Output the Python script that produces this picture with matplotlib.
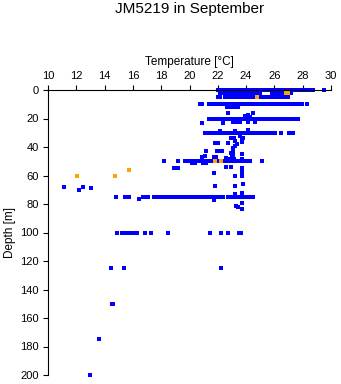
import matplotlib.pyplot as plt

# temperatures (degC) at the standard sampling depths
t_0m = [22.0, 22.15, 22.3, 22.45, 22.6, 22.75, 22.9, 23.05, 23.2, 23.35, 23.5,
        23.65, 23.8, 23.95, 24.1, 24.25, 24.4, 24.55, 24.7, 24.85, 25.0, 25.15,
        25.3, 25.45, 25.6, 25.75, 25.9, 26.05, 26.2, 26.35, 26.5, 26.65, 26.8,
        26.95, 27.1, 27.25, 27.4, 27.55, 27.7, 27.85, 28.0, 28.15, 28.3, 28.45,
        28.6, 28.75, 29.5]
t_2m = [22.15, 22.35, 22.6, 22.8, 22.95, 23.2, 23.35, 23.5, 23.65, 23.8, 23.95,
        24.1, 24.25, 24.4, 24.55, 24.7, 24.85, 25.0, 25.8, 25.95, 26.05, 26.2,
        26.4, 26.55, 26.7, 27.05, 27.15]
t_5m = [22.0, 22.15, 22.5, 22.65, 22.8, 22.95, 23.1, 23.25, 23.4, 23.55, 23.7,
        23.85, 24.0, 24.15, 24.3, 24.45, 24.6, 24.9, 25.05, 25.2, 25.35, 25.5,
        25.65, 25.8, 25.95, 26.1, 26.25, 26.4, 26.65, 26.8, 26.95]
t_10m = [20.75, 20.9, 21.35, 21.5, 21.65, 21.8, 21.95, 22.1, 22.25, 22.4, 22.55,
         22.7, 22.85, 23.0, 23.15, 23.3, 23.45, 23.6, 23.75, 23.9, 24.05, 24.2,
         24.35, 24.5, 24.65, 24.8, 24.95, 25.1, 25.25, 25.4, 25.55, 25.7, 25.85,
         26.0, 26.15, 26.3, 26.45, 26.6, 26.75, 26.9, 27.05, 27.2, 27.35, 27.5,
         27.65, 27.8, 27.95, 28.3]
t_12m = [22.65, 22.85, 23.1, 23.3, 23.45]
t_20m = [21.4, 21.55, 21.7, 21.85, 22.0, 22.15, 22.3, 22.45, 22.6, 22.75, 22.9,
         23.05, 23.2, 23.35, 23.5, 23.65, 23.8, 23.95, 24.1, 24.25, 24.4, 24.55,
         24.7, 24.85, 25.0, 25.15, 25.3, 25.45, 25.7, 25.85, 26.0, 26.15, 26.3,
         26.5, 26.65, 26.8, 26.95, 27.1, 27.25, 27.4, 27.55, 27.7]
t_30m = [21.1, 21.25, 21.4, 21.55, 21.7, 21.85, 22.0, 22.15, 22.3, 22.45, 22.6,
         22.75, 22.9, 23.05, 23.2, 23.35, 23.5, 23.65, 23.8, 23.95, 24.1, 24.25,
         24.4, 24.55, 24.7, 24.85, 25.0, 25.15, 25.3, 25.45, 25.6, 25.75, 25.9,
         26.05, 26.45, 27.0, 27.15, 27.3]
t_50m = [18.2, 19.2, 19.7, 19.85, 20.0, 20.15, 20.3, 20.45, 20.6, 20.75, 20.9,
         21.05, 21.2, 21.35, 21.5, 21.65, 21.95, 22.1, 22.4, 22.55, 22.7, 22.85,
         23.0, 23.15, 23.3, 23.45, 23.6, 23.75, 23.9, 24.05, 24.2, 24.3, 25.15]
t_75m = [14.8, 15.45, 15.6, 15.7, 16.7, 16.85, 17.0, 17.1, 17.5, 17.65, 17.8,
         17.95, 18.1, 18.25, 18.5, 18.65, 18.8, 18.95, 19.1, 19.25, 19.4, 19.55,
         19.7, 19.85, 20.0, 20.15, 20.3, 20.45, 20.6, 20.8, 20.95, 21.1, 21.25,
         21.4, 21.55, 21.7, 21.85, 22.0, 22.15, 22.3, 22.4, 22.7, 22.85, 23.0,
         23.15, 23.3, 23.45, 23.6, 23.75, 23.9, 24.05, 24.2, 24.35, 24.5]
t_100m = [14.85, 15.25, 15.4, 15.55, 15.7, 15.85, 16.0, 16.15, 16.3, 16.85,
          17.25, 18.5, 21.45, 22.25, 22.75, 23.5, 23.65]
t_125m = [14.45, 15.35, 22.2]
t_150m = [14.5, 14.6]
t_175m = [13.6]
t_200m = [13.0]

# loose points between the standard depths
other_temp = [22.7, 24.5, 24.1, 23.9, 24.3, 24.0,
              20.85, 22.35, 23.1, 23.35, 23.6, 24.15, 24.6,
              22.15, 23.2, 24.15, 22.9, 23.15, 23.6, 23.75, 23.7,
              21.8, 22.0, 22.75, 23.2, 23.35, 23.25, 23.7,
              21.2, 21.95, 22.1, 22.3, 22.9, 23.1, 23.1, 23.1, 23.7,
              20.85, 21.1, 21.7, 21.9, 22.6, 22.75, 23.0, 23.15, 23.7,
              20.15, 20.4, 20.95, 21.15,
              22.6, 22.9, 23.7, 23.7, 21.7, 23.2, 23.7, 18.9, 19.2,
              11.15, 12.2, 12.5, 13.05,
              23.8, 21.8, 23.2, 23.7, 23.25,
              16.4, 21.7, 23.7, 23.3, 23.4, 23.7]
other_depth = [16, 16, 17.5, 18.5, 19, 19.5,
               23, 23, 22.5, 22.5, 22.5, 22.5, 22.5,
               29, 29, 28, 33.5, 33.5, 32, 33.5, 35,
               37.5, 37.5, 37, 36, 38, 39.5, 36.5,
               42.5, 42.5, 42.5, 42.5, 44, 41, 43, 45.5, 45,
               47.2, 46.3, 47.2, 47.2, 47.5, 48.5, 47, 48.5, 48.5,
               51.5, 51.5, 51.5, 51.5,
               54, 54, 55, 57.3, 58.5, 60.5, 60.5, 55, 55,
               68, 70, 68, 69,
               66, 67.4, 67.4, 72, 73,
               76.5, 77.5, 79.5, 81.5, 82, 83.5]

# orange values
flag_temp = [26.85, 26.95, 24.75, 21.8, 22.25, 12.05, 14.75, 15.75]
flag_depth = [2, 2, 5, 50, 50, 60, 60, 56]

rows = [(0, t_0m), (2, t_2m), (5, t_5m), (10, t_10m), (12, t_12m),
        (20, t_20m), (30, t_30m), (50, t_50m), (75, t_75m), (100, t_100m),
        (125, t_125m), (150, t_150m), (175, t_175m), (200, t_200m)]

plt.rcParams['font.family'] = ['Liberation Sans', 'DejaVu Sans']

fig = plt.figure(figsize=(3.41, 3.84), dpi=100)
ax = fig.add_axes([48 / 341, 9 / 384, 283 / 341, 285 / 384])

mk = dict(marker='s', linestyle='none', ms=2.2, mew=0, clip_on=False)
for d, temps in rows:
    ax.plot(temps, [d] * len(temps), color='#0000ff', **mk)
ax.plot(other_temp, other_depth, color='#0000ff', **mk)
ax.plot(flag_temp, flag_depth, color='#ffa500', **mk)

ax.set_xlim(10, 30)
ax.set_ylim(200, 0)
ax.set_xticks(range(10, 31, 2))
ax.set_yticks(range(0, 201, 20))
ax.xaxis.tick_top()
ax.xaxis.set_label_position('top')
for s in ['right', 'bottom']:
    ax.spines[s].set_visible(False)
for s in ['left', 'top']:
    ax.spines[s].set_linewidth(0.8)
ax.tick_params(direction='out', length=3.5, width=0.8, labelsize=8, pad=3)

ax.set_xlabel('Temperature [°C]', fontsize=8.5, labelpad=4)
ax.set_ylabel('Depth [m]', fontsize=8.5, labelpad=3)
fig.text(189.5 / 341, 1 - 9 / 384, 'JM5219 in September', ha='center',
         va='center', fontsize=11)

fig.savefig('out.png', dpi=100)
